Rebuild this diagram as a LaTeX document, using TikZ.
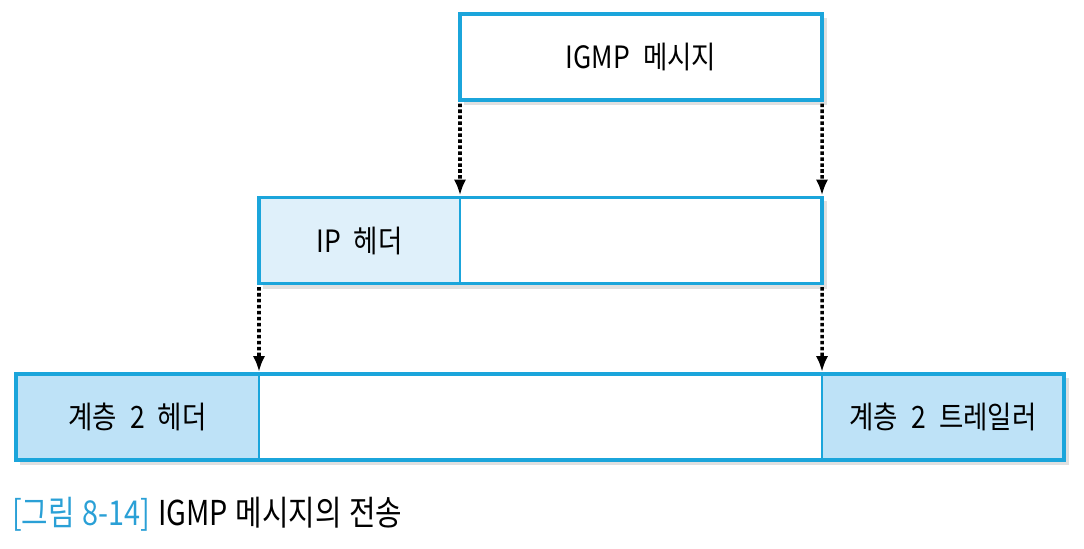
\documentclass[tikz,border=0pt]{standalone}
\usepackage{fontspec}
\setmainfont{Noto Sans CJK KR}[FakeStretch=0.86, WordSpace=2.2]
\newfontfamily\capfont{Noto Sans CJK KR}[FakeStretch=0.84, WordSpace=1.2]
\usepackage{tikz}
\usetikzlibrary{arrows.meta, positioning, backgrounds}
\definecolor{frameblue}{HTML}{1BA5DB}
\definecolor{hdrlight}{HTML}{DFF0FA}
\definecolor{hdrblue}{HTML}{BEE2F7}
\definecolor{capblue}{HTML}{2AA0D6}

\begin{document}
\begin{tikzpicture}[
  every node/.style={font=\fontsize{17.5}{20}\selectfont},
  field/.style={rectangle, draw=frameblue, line width=0.6pt, fill=white,
                inner sep=0pt, outer sep=0pt, minimum height=1.72cm},
  iphead/.style={field, fill=hdrlight},
  l2part/.style={field, fill=hdrblue},
  frame/.style={draw=frameblue, line width=2.2pt},
  shade/.style={fill=black, opacity=0.12},
  carry/.style={-{Latex[length=9pt,width=7pt]}, line width=2pt,
                dash pattern=on 2pt off 1.4pt, black},
  caption/.style={font=\capfont\fontsize{19.5}{23}\selectfont, anchor=west}
]
\useasboundingbox (0,0) rectangle (21.68,-10.96);

% IGMP 메시지
\node[field, minimum width=7.24cm] (msg) at (12.82,-1.14) {IGMP 메시지};
\draw[frame] (msg.north west) rectangle (msg.south east);

% IP 패킷
\node[iphead, minimum width=4.02cm] (iphdr) at (7.19,-4.81) {IP 헤더};
\node[field, minimum width=7.24cm, right=0pt of iphdr] (ipdata) {};
\draw[frame] (iphdr.north west) rectangle (ipdata.south east);

% 계층 2 프레임
\node[l2part, minimum width=4.86cm] (l2hdr) at (2.75,-8.34) {계층 2 헤더};
\node[field, minimum width=11.26cm, right=0pt of l2hdr] (l2data) {};
\node[l2part, minimum width=4.84cm, right=0pt of l2data] (l2trl) {계층 2 트레일러};
\draw[frame] (l2hdr.north west) rectangle (l2trl.south east);

% 그림자
\begin{scope}[on background layer]
  \fill[shade] ([shift={(2pt,-2pt)}]msg.north west) rectangle ([shift={(3pt,-3pt)}]msg.south east);
  \fill[shade] ([shift={(2pt,-2pt)}]iphdr.north west) rectangle ([shift={(3pt,-3pt)}]ipdata.south east);
  \fill[shade] ([shift={(2pt,-2pt)}]l2hdr.north west) rectangle ([shift={(3pt,-3pt)}]l2trl.south east);
\end{scope}

% 캡슐화 화살표
\draw[carry] ([yshift=-2pt]msg.south west) -- ([yshift=1.2pt]ipdata.north west);
\draw[carry] ([yshift=-2pt]msg.south east) -- ([yshift=1.2pt]ipdata.north east);
\draw[carry] ([yshift=-2pt]iphdr.south west) -- ([yshift=1.2pt]l2data.north west);
\draw[carry] ([yshift=-2pt]ipdata.south east) -- ([yshift=1.2pt]l2data.north east);

\node[caption] (cap) at (0.12,-10.28) {{\color{capblue}[그림 8-14]} IGMP 메시지의 전송};
\end{tikzpicture}
\end{document}
